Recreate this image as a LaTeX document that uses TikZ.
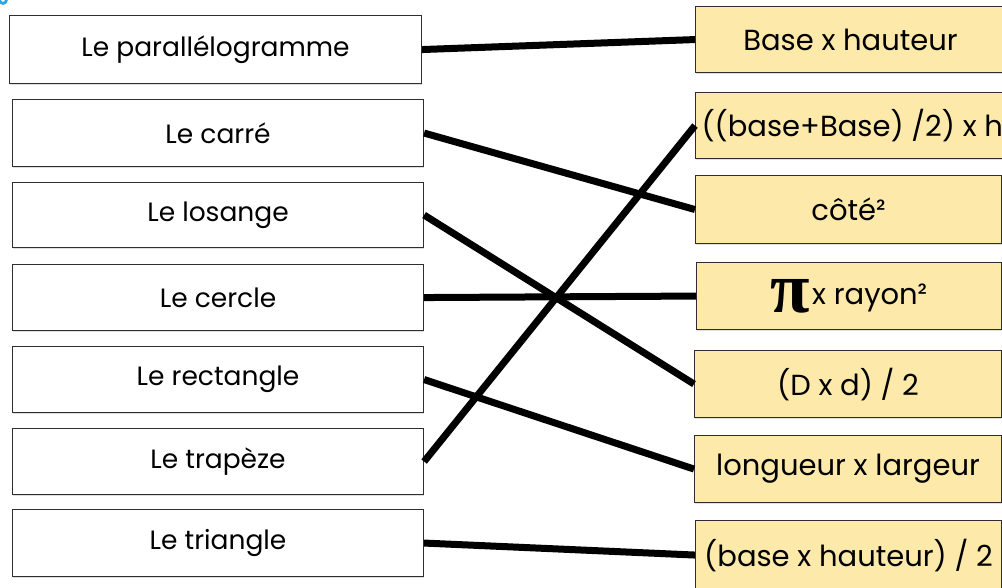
\documentclass[tikz,border=0pt]{standalone}
\usepackage{fontspec}
\setmainfont{Poppins}
\newfontfamily\piface{Liberation Serif}
\usetikzlibrary{shadows}
\definecolor{cardfill}{HTML}{FDE9A9}
\definecolor{cardline}{HTML}{2E2E2E}
\definecolor{handle}{HTML}{2AA7E1}
\tikzset{
  shape card/.style={draw=cardline, line width=1.1pt, fill=white, rectangle,
    anchor=north west, inner sep=0pt, font=\fontsize{26.5}{30}\selectfont,
    drop shadow={shadow xshift=0.8pt, shadow yshift=-1.6pt, opacity=0.25}},
  formula card/.style={shape card, fill=cardfill, font=\fontsize{29}{33}\selectfont},
  link/.style={line width=7pt, black}
}
\begin{document}
\begin{tikzpicture}[x=1pt, y=-1pt]
\useasboundingbox (0,0) rectangle (1002,587);
\clip (0,0) rectangle (1002,587);

% selection handle peeking in at the corner
\draw[handle, line width=2.8pt] (3,0) circle[radius=3.4];

% shapes
\node[shape card, minimum width=412pt, minimum height=68pt] (para) at (9,15) {Le parallélogramme};
\node[shape card, minimum width=411pt, minimum height=67pt] (carre) at (12,99) {Le carré};
\node[shape card, minimum width=411pt, minimum height=65pt] (losange) at (12,182) {Le losange};
\node[shape card, minimum width=411pt, minimum height=66pt] (cercle) at (12,264) {Le cercle};
\node[shape card, minimum width=411pt, minimum height=66pt] (rect) at (12,346) {Le rectangle};
\node[shape card, minimum width=411pt, minimum height=66pt] (trap) at (12,428) {Le trapèze};
\node[shape card, minimum width=411pt, minimum height=67pt] (tri) at (12,509) {Le triangle};

% formulas
\node[formula card, minimum width=310pt, minimum height=66pt] (fpara) at (695,6)
  {\makebox[306pt][c]{Base x hauteur}\hspace{4pt}};
\node[formula card, minimum width=312pt, minimum height=66pt] (ftrap) at (695,92)
  {\makebox[312pt][l]{\hspace{6pt}((base+Base) /2) x h}};
\node[formula card, minimum width=306pt, minimum height=68pt] (fcarre) at (695,175)
  {\makebox[306pt][c]{côté²}};
\node[formula card, minimum width=305pt, minimum height=67pt] (fcercle) at (696,262)
  {\makebox[305pt][c]{\raisebox{-8pt}{\piface\bfseries\fontsize{72}{72}\selectfont π}\hspace{2pt}x rayon²}};
\node[formula card, minimum width=307pt, minimum height=67pt] (flosange) at (694,350)
  {\makebox[307pt][c]{(D x d) / 2}};
\node[formula card, minimum width=307pt, minimum height=67pt] (frect) at (694,435)
  {\makebox[307pt][c]{longueur x largeur}};
\node[formula card, minimum width=306pt, minimum height=69pt] (ftri) at (695,520)
  {\makebox[306pt][c]{(base x hauteur) / 2}};

% matching lines
\draw[link] (para.east) -- (fpara.west);
\draw[link] (carre.east) -- (fcarre.west);
\draw[link] (losange.east) -- (flosange.west);
\draw[link] (cercle.east) -- (fcercle.west);
\draw[link] (rect.east) -- (frect.west);
\draw[link] (trap.east) -- (ftrap.west);
\draw[link] (tri.east) -- (ftri.west);
\end{tikzpicture}
\end{document}
